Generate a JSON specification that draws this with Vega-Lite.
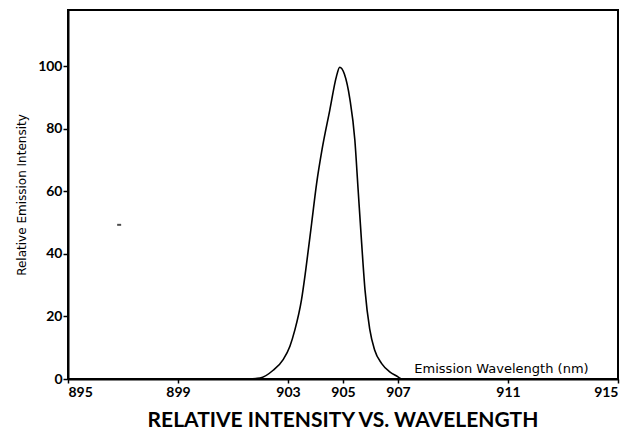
{
  "$schema": "https://vega.github.io/schema/vega-lite/v6.json",
  "width": 550,
  "height": 369,
  "autosize": {"type": "none"},
  "padding": {"left": 68, "top": 10, "right": 19, "bottom": 54},
  "background": "white",
  "config": {
    "view": {"stroke": "black", "strokeWidth": 2},
    "font": "Lato",
    "axis": {"grid": false, "domainColor": "black", "domainWidth": 2, "tickColor": "black", "tickWidth": 1.5, "labelColor": "black", "titleColor": "black", "labelFont": "Lato", "titleFont": "DejaVu Sans"}
  },
  "title": {
    "text": "RELATIVE INTENSITY  VS. WAVELENGTH",
    "orient": "bottom",
    "anchor": "middle",
    "font": "Lato",
    "fontSize": 21,
    "fontWeight": "bold",
    "color": "black",
    "offset": 11
  },
  "datasets": {
    "curve": [
      {"wavelength": 901.55, "intensity": 0},
      {"wavelength": 901.98, "intensity": 0.3},
      {"wavelength": 902.46, "intensity": 2.8},
      {"wavelength": 902.83, "intensity": 6.3},
      {"wavelength": 903.07, "intensity": 10.5},
      {"wavelength": 903.25, "intensity": 15.7},
      {"wavelength": 903.49, "intensity": 25.3},
      {"wavelength": 903.64, "intensity": 34.5},
      {"wavelength": 903.86, "intensity": 49.8},
      {"wavelength": 904.04, "intensity": 62.5},
      {"wavelength": 904.24, "intensity": 73.5},
      {"wavelength": 904.52, "intensity": 86},
      {"wavelength": 904.76, "intensity": 96.7},
      {"wavelength": 904.88, "intensity": 99.7},
      {"wavelength": 905.05, "intensity": 97.5},
      {"wavelength": 905.25, "intensity": 89.5},
      {"wavelength": 905.43, "intensity": 76.5},
      {"wavelength": 905.55, "intensity": 60.5},
      {"wavelength": 905.67, "intensity": 44.5},
      {"wavelength": 905.8, "intensity": 28.5},
      {"wavelength": 905.97, "intensity": 16},
      {"wavelength": 906.15, "intensity": 9.3},
      {"wavelength": 906.4, "intensity": 5},
      {"wavelength": 906.7, "intensity": 2.3},
      {"wavelength": 907.0, "intensity": 0.7},
      {"wavelength": 907.12, "intensity": 0}
    ],
    "speck": [
      {"wavelength": 896.86, "intensity": 49.3}
    ]
  },
  "layer": [
    {
      "data": {"name": "curve"},
      "mark": {"type": "line", "color": "black", "strokeWidth": 1.6, "interpolate": "monotone"},
      "encoding": {
        "x": {
          "field": "wavelength", "type": "quantitative",
          "scale": {"domain": [895, 915], "nice": false, "zero": false},
          "axis": {
            "values": [895, 899, 903, 905, 907, 911, 915],
            "title": "Emission Wavelength  (nm)",
            "titleX": 433, "titleY": -11, "titleBaseline": "middle",
            "titleFontSize": 13, "titleFontWeight": "normal",
            "labelFontSize": 14, "labelFontWeight": "bold", "labelPadding": 2,
            "tickSize": 4
          }
        },
        "y": {
          "field": "intensity", "type": "quantitative",
          "scale": {"domain": [0, 118], "nice": false},
          "axis": {
            "values": [0, 20, 40, 60, 80, 100],
            "title": "Relative Emission Intensity",
            "titleFontSize": 12, "titleFontWeight": "normal", "titlePadding": 9,
            "labelFontSize": 14, "labelFontWeight": "bold", "labelPadding": 1,
            "tickSize": 5
          }
        }
      }
    },
    {
      "data": {"name": "speck"},
      "mark": {"type": "tick", "orient": "horizontal", "color": "black", "size": 4, "thickness": 2},
      "encoding": {
        "x": {"field": "wavelength", "type": "quantitative"},
        "y": {"field": "intensity", "type": "quantitative"}
      }
    }
  ]
}
